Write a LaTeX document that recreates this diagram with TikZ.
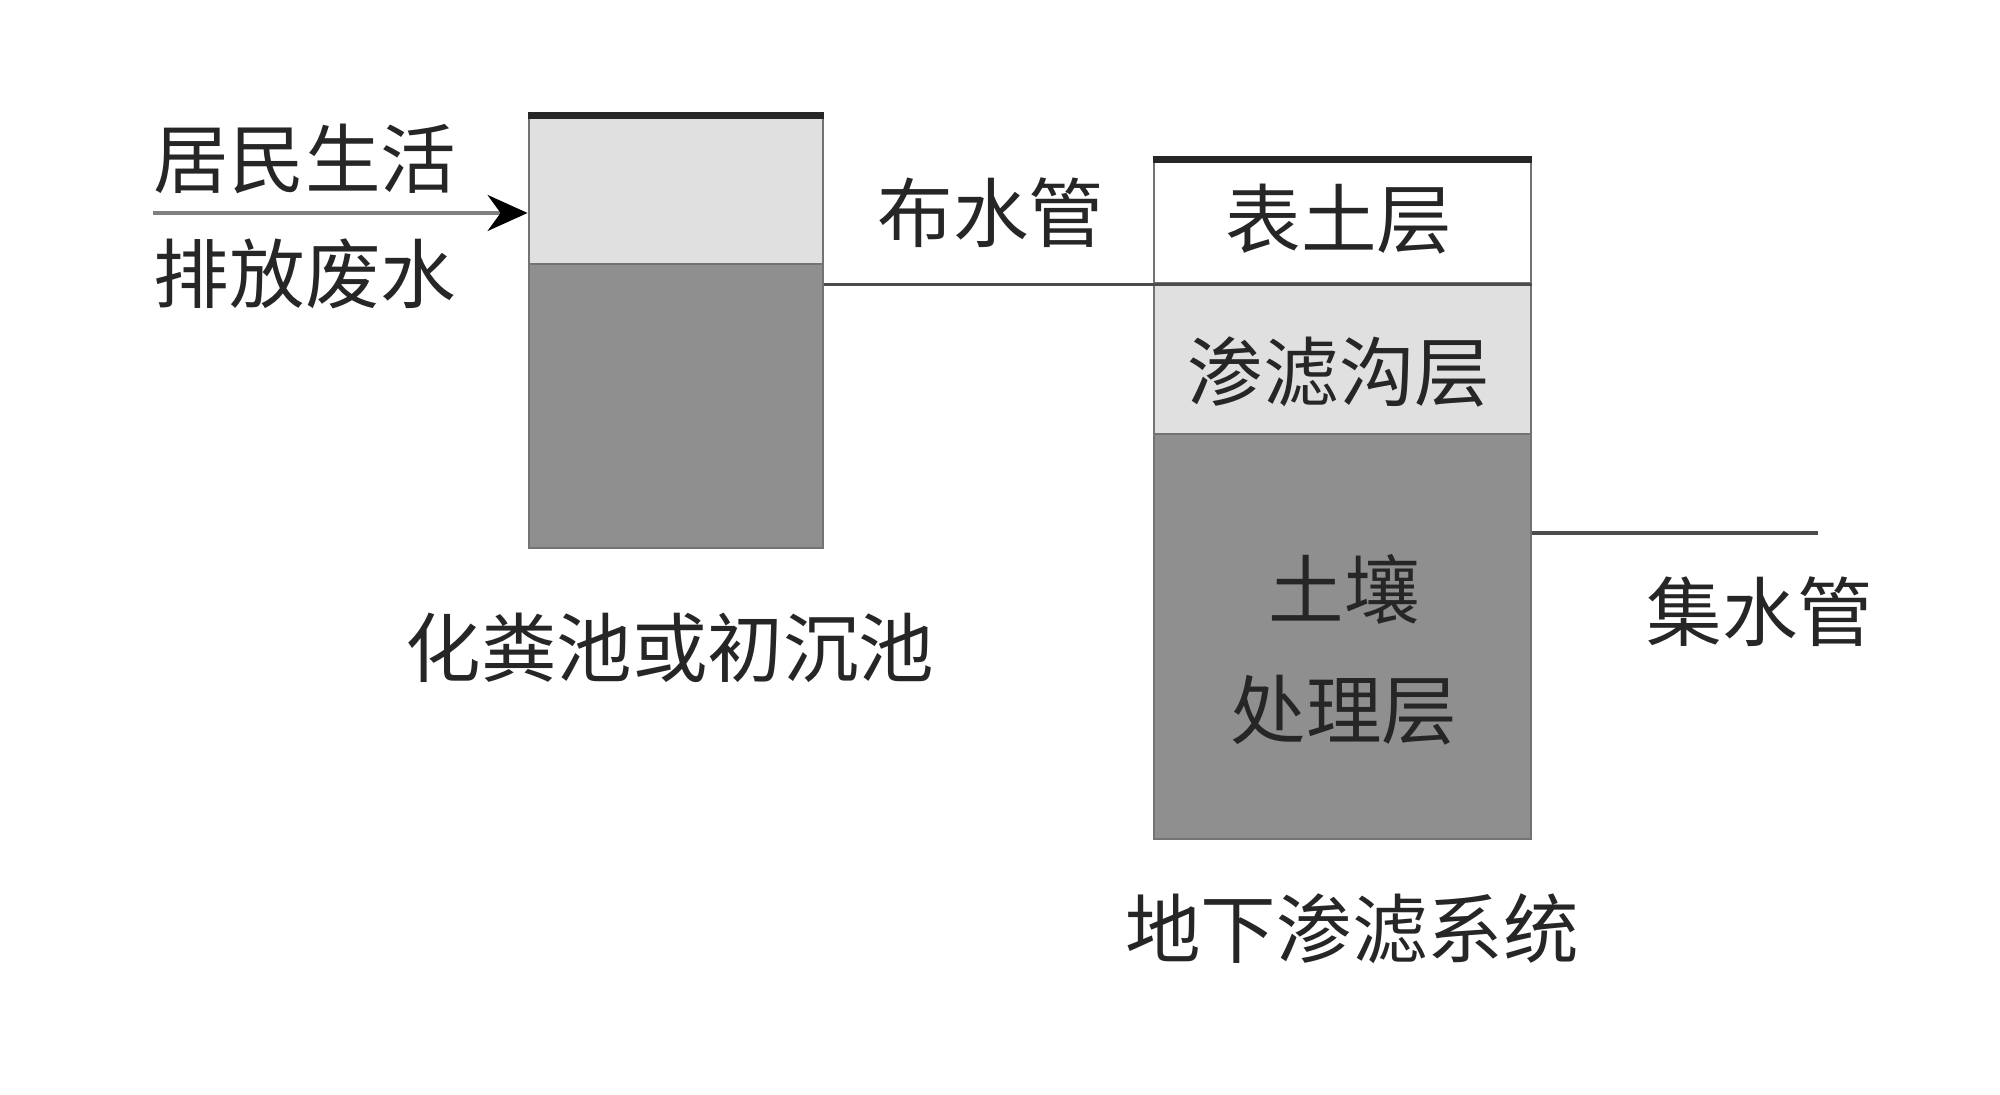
\documentclass[tikz,border=0pt]{standalone}
\usepackage{fontspec}
\newfontfamily\cjk{Noto Sans CJK SC}
\usetikzlibrary{arrows.meta}
\definecolor{lightfill}{gray}{0.88}
\definecolor{darkfill}{gray}{0.56}
\definecolor{edge}{gray}{0.45}

\begin{document}
\begin{tikzpicture}[
    layer/.style={draw=edge, line width=0.8pt, inner sep=0pt},
    lbl/.style={text=black!85, font=\cjk\fontsize{21.5}{34}\selectfont, align=center},
    pipe/.style={draw=black!70, line width=1pt},
    lid/.style={line width=2pt, black!85}
]
    \useasboundingbox (0,0) rectangle (20,-10.95);

    %septic tank
    \node[layer, fill=lightfill, minimum width=2.94cm, minimum height=1.47cm] (scum) at (6.76,-1.905) {};
    \node[layer, fill=darkfill, minimum width=2.94cm, minimum height=2.84cm] (sludge) at (6.76,-4.06) {};
    \draw[lid] (scum.north west) -- (scum.north east);

    %infiltration system
    \node[layer, fill=white, minimum width=3.77cm, minimum height=1.22cm] (topsoil) at (13.425,-2.22) {};
    \node[layer, fill=lightfill, minimum width=3.77cm, minimum height=1.51cm] (trench) at (13.425,-3.585) {};
    \node[layer, fill=darkfill, minimum width=3.77cm, minimum height=4.05cm] (soil) at (13.425,-6.365) {};
    \draw[lid] (topsoil.north west) -- (topsoil.north east);

    %pipes
    \coordinate (inlet) at (1.53,-2.13);
    \coordinate (outlet) at (18.18,-5.33);
    \draw[gray, line width=1pt, -{Stealth[black, length=0.4cm, width=0.36cm]}] (inlet) -- (inlet -| scum.west);
    \draw[pipe] (sludge.east |- topsoil.south) -- (topsoil.south east);
    \draw[pipe] (soil.east |- outlet) -- (outlet);

    %labels
    \node[lbl] (topsoillbl) at (13.39,-2.19) {表土层};
    \node[lbl] (trenchlbl) at (13.39,-3.72) {渗滤沟层};
    \node[lbl] (soillbl) at (13.44,-6.50) {土壤\\处理层};
    \node[lbl] (wastein) at (3.05,-1.59) {居民生活};
    \node[lbl] (wasteout) at (3.05,-2.74) {排放废水};
    \node[lbl] (distpipe) at (9.91,-2.13) {布水管};
    \node[lbl] (collpipe) at (17.60,-6.12) {集水管};
    \node[lbl] (tanklbl) at (6.70,-6.48) {化粪池或初沉池};
    \node[lbl] (syslbl) at (13.52,-9.29) {地下渗滤系统};
\end{tikzpicture}
\end{document}
